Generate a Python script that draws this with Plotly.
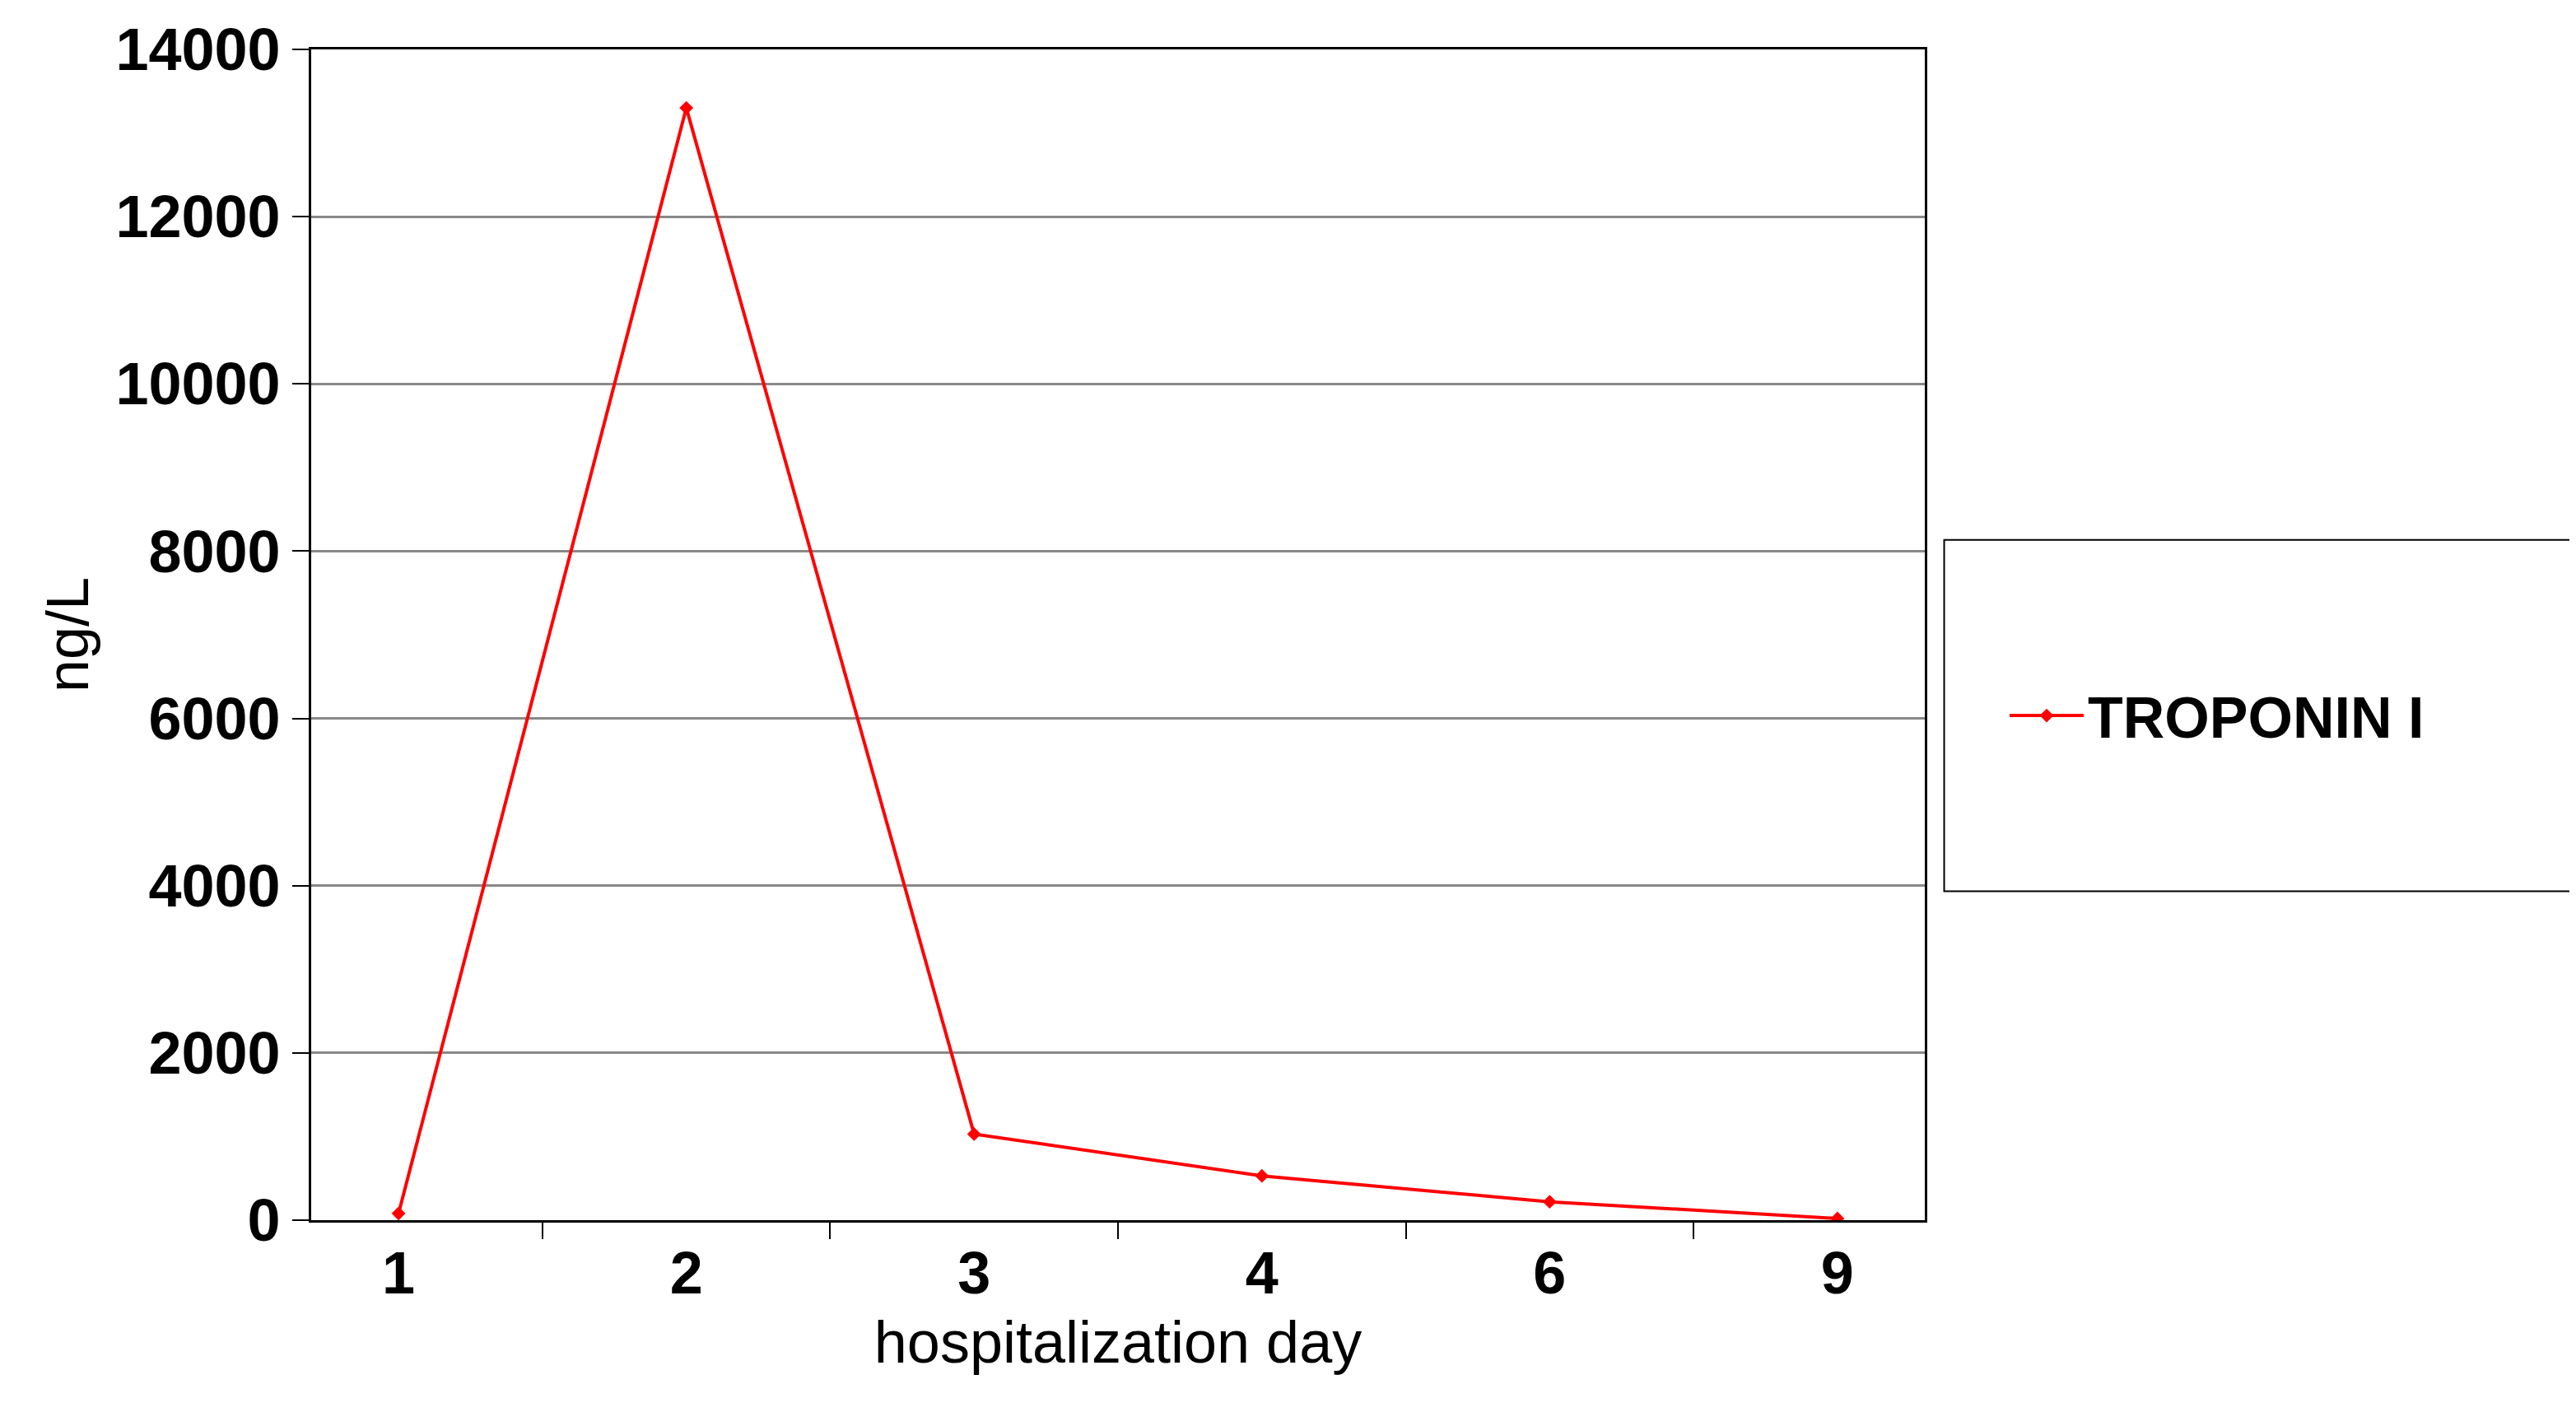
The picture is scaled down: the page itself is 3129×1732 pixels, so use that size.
import plotly.graph_objects as go

days = ["1", "2", "3", "4", "6", "9"]
troponin = [80, 13300, 1030, 530, 220, 20]
y_ticks = [0, 2000, 4000, 6000, 8000, 10000, 12000, 14000]
y_labels = ["0", "2000", "4000", "6000", "8000", "10000", "12000", "14000"]

fig = go.Figure()
fig.add_trace(go.Scatter(
    x=days, y=troponin, mode="lines+markers", name="TROPONIN I",
    line=dict(color="#ff0000", width=4),
    marker=dict(symbol="diamond", size=13, color="#ff0000"),
))
fig.update_layout(
    width=3129, height=1732,
    paper_bgcolor="white", plot_bgcolor="white",
    margin=dict(l=370, r=799, t=50, b=258),
    font=dict(family="Liberation Sans, Arial, sans-serif", color="black"),
    showlegend=True,
    legend=dict(x=1.05, y=0.431, xanchor="left", yanchor="middle",
                font=dict(size=70, family="Liberation Sans, Arial, sans-serif", weight="bold"),
                bgcolor="rgba(0,0,0,0)", itemwidth=90),
    shapes=[dict(type="rect", xref="paper", yref="paper",
                 x0=1.012, x1=1.40, y0=0.281, y1=0.581,
                 line=dict(color="black", width=2))],
)
fig.update_xaxes(
    type="category", tickson="boundaries", ticks="outside", ticklen=20,
    tickwidth=2, tickcolor="black",
    showline=True, linecolor="black", linewidth=3, mirror=True,
    tickfont=dict(size=72, weight="bold"),
    title=dict(text="hospitalization day", font=dict(size=72), standoff=20),
    showgrid=False,
)
fig.update_yaxes(
    range=[0, 14000], tickvals=y_ticks, ticktext=y_labels,
    ticks="outside", ticklen=20, tickwidth=2, tickcolor="black",
    showline=True, linecolor="black", linewidth=3, mirror=True,
    showgrid=True, gridcolor="#888888", gridwidth=3,
    tickfont=dict(size=72, weight="bold"),
    title=dict(text="ng/L", font=dict(size=72), standoff=10),
    zeroline=False,
)
fig.write_html("out.html")
